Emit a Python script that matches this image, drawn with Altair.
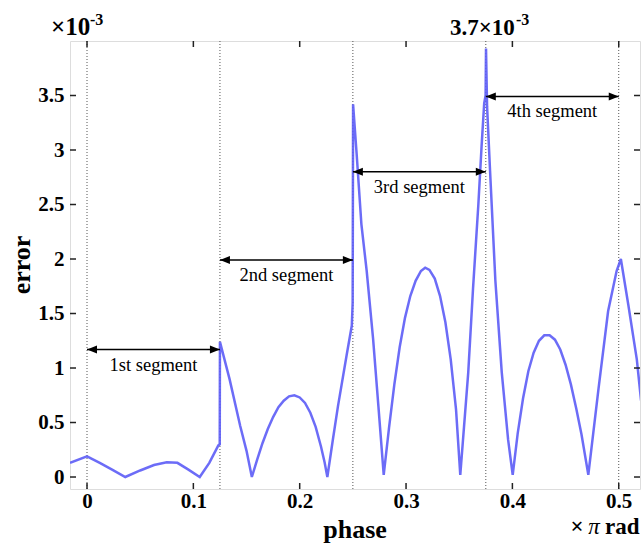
import altair as alt
import pandas as pd

# ---- data (error in units of 1e-3, phase in units of pi rad)
phase = [-0.016, 0.0, 0.012, 0.024, 0.036, 0.05, 0.063, 0.075, 0.085, 0.095, 0.106,
         0.115, 0.1235, 0.1248, 0.125, 0.134, 0.144, 0.150, 0.155,
         0.160, 0.165, 0.170, 0.175, 0.180, 0.185, 0.190, 0.195, 0.200, 0.205,
         0.210, 0.215, 0.220, 0.2235, 0.226,
         0.231, 0.236, 0.244, 0.249, 0.2498, 0.2502, 0.2535, 0.258, 0.263, 0.269, 0.274,
         0.279, 0.284, 0.289, 0.294, 0.299, 0.304, 0.309, 0.314, 0.318, 0.322,
         0.327, 0.332, 0.337, 0.342, 0.347, 0.351,
         0.3585, 0.363, 0.368, 0.371, 0.3735, 0.3748, 0.3752, 0.3762,
         0.379, 0.384, 0.390, 0.396, 0.4003,
         0.405, 0.410, 0.415, 0.420, 0.425, 0.430, 0.435, 0.440, 0.445, 0.450,
         0.455, 0.460, 0.465, 0.4714,
         0.481, 0.490, 0.498, 0.502, 0.509, 0.517, 0.521]
error = [0.13, 0.19, 0.13, 0.065, 0.0, 0.06, 0.11, 0.135, 0.13, 0.07, 0.0,
         0.13, 0.29, 0.30, 1.24, 0.90, 0.47, 0.24, 0.0,
         0.16, 0.31, 0.44, 0.55, 0.64, 0.70, 0.74, 0.75, 0.73, 0.68,
         0.59, 0.46, 0.28, 0.13, 0.0,
         0.33, 0.65, 1.11, 1.39, 1.60, 3.42, 2.97, 2.32, 1.89, 1.27, 0.65,
         0.02, 0.45, 0.85, 1.19, 1.46, 1.66, 1.80, 1.89, 1.92, 1.90,
         1.82, 1.66, 1.42, 1.08, 0.62, 0.02,
         0.96, 1.73, 2.50, 3.03, 3.43, 3.50, 3.93, 3.40,
         2.81, 1.80, 0.96, 0.34, 0.02,
         0.40, 0.72, 0.97, 1.14, 1.25, 1.30, 1.30, 1.26, 1.17, 1.03,
         0.85, 0.63, 0.39, 0.02,
         0.81, 1.52, 1.89, 2.00, 1.58, 1.08, 0.70]

seg_bounds = [0.0, 0.125, 0.25, 0.375, 0.5]
seg_names = ["1st segment", "2nd segment", "3rd segment", "4th segment"]
seg_arrow_y = [1.17, 1.99, 2.80, 3.49]
seg_text_y = [1.03, 1.85, 2.66, 3.36]

x_ticks = [0, 0.1, 0.2, 0.3, 0.4, 0.5]
y_ticks = [0, 0.5, 1, 1.5, 2, 2.5, 3, 3.5]

W, H = 570, 448
SERIF = "Liberation Serif"

curve = pd.DataFrame({"phase": phase, "error": error, "i": range(len(phase))})
segs = pd.DataFrame({
    "x0": seg_bounds[:-1], "x1": seg_bounds[1:],
    "mid": [(a + b) / 2 for a, b in zip(seg_bounds[:-1], seg_bounds[1:])],
    "name": seg_names, "ay": seg_arrow_y, "ty": seg_text_y,
})
bounds = pd.DataFrame({"b": seg_bounds})
xt = pd.DataFrame({"t": x_ticks})
yt = pd.DataFrame({"t": y_ticks})

xs = alt.Scale(domain=[-0.016, 0.52], nice=False, zero=False)
ys = alt.Scale(domain=[-0.11, 4.0], nice=False, zero=False)

xaxis = alt.Axis(values=x_ticks, format="~g", ticks=False, domain=False, grid=False,
                 labelFont=SERIF, labelFontWeight="bold", labelFontSize=21,
                 labelColor="black", labelPadding=1, title=None)
yaxis = alt.Axis(values=y_ticks, format="~g", ticks=False, domain=False, grid=False,
                 labelFont=SERIF, labelFontWeight="bold", labelFontSize=21,
                 labelColor="black", labelPadding=6, title=None)

line = alt.Chart(curve).mark_line(color="#5c5cf6", strokeWidth=2.5, opacity=0.9, clip=True).encode(
    x=alt.X("phase:Q", scale=xs, axis=xaxis),
    y=alt.Y("error:Q", scale=ys, axis=yaxis),
    order="i:Q",
)

vlines = alt.Chart(bounds).mark_rule(color="#555555", strokeWidth=1, strokeDash=[1, 2]).encode(
    x=alt.X("b:Q", scale=xs), y=alt.value(0), y2=alt.value(H)
)

tick_len = 6
tb = alt.Chart(xt).mark_rule(color="#222222", strokeWidth=1.5).encode(
    x=alt.X("t:Q", scale=xs), y=alt.value(H), y2=alt.value(H - tick_len))
tt = alt.Chart(xt).mark_rule(color="#222222", strokeWidth=1.5).encode(
    x=alt.X("t:Q", scale=xs), y=alt.value(0), y2=alt.value(tick_len))
tl = alt.Chart(yt).mark_rule(color="#222222", strokeWidth=1.5).encode(
    y=alt.Y("t:Q", scale=ys), x=alt.value(0), x2=alt.value(tick_len))
tr = alt.Chart(yt).mark_rule(color="#222222", strokeWidth=1.5).encode(
    y=alt.Y("t:Q", scale=ys), x=alt.value(W), x2=alt.value(W - tick_len))

shaft = alt.Chart(segs).mark_rule(color="black", strokeWidth=1.5).encode(
    x=alt.X("x0:Q", scale=xs), x2="x1:Q", y=alt.Y("ay:Q", scale=ys))
head_l = alt.Chart(segs).mark_point(shape="M0,0 L1,-0.4 L1,0.4 Z", filled=True,
                                    color="black", opacity=1, size=400).encode(
    x=alt.X("x0:Q", scale=xs), y=alt.Y("ay:Q", scale=ys))
head_r = alt.Chart(segs).mark_point(shape="M0,0 L-1,-0.4 L-1,0.4 Z", filled=True,
                                    color="black", opacity=1, size=400).encode(
    x=alt.X("x1:Q", scale=xs), y=alt.Y("ay:Q", scale=ys))
seg_text = alt.Chart(segs).mark_text(font=SERIF, fontSize=18.5, color="black",
                                     baseline="middle").encode(
    x=alt.X("mid:Q", scale=xs), y=alt.Y("ty:Q", scale=ys), text="name:N")

def label(txt, x, y, size=21, align="left", baseline="alphabetic", angle=0, weight="bold", style="normal"):
    return alt.Chart(pd.DataFrame({"t": [txt]})).mark_text(
        font=SERIF, fontSize=size, fontWeight=weight, fontStyle=style, color="black",
        align=align, baseline=baseline, angle=angle
    ).encode(x=alt.value(x), y=alt.value(y), text="t:N")

texts = [
    label("×10", -19, -6, size=25),
    label("-3", 20, -16, size=16),
    label("3.7×10", 380, -6, size=23),
    label("-3", 446, -16, size=16),
    label("error", -48, 224, size=26, align="center", baseline="middle", angle=270),
    label("phase", 285, 489, size=26, align="center", baseline="middle"),
    label("×", 507, 486, size=23, align="center", baseline="middle"),
    label("π", 524, 486, size=23, align="center", baseline="middle", style="italic", weight="normal"),
    label("rad", 535, 486, size=23, align="left", baseline="middle"),
]

chart = alt.layer(vlines, line, tb, tt, tl, tr, shaft, head_l, head_r, seg_text, *texts).properties(
    width=W, height=H,
    autosize=alt.AutoSizeParams(type="none"),
    padding={"left": 70, "top": 41, "right": 3, "bottom": 56},
).configure_view(stroke="#222222", strokeWidth=2).configure(background="white")

chart.save("out.html", embed_options={"renderer": "svg", "actions": False})
